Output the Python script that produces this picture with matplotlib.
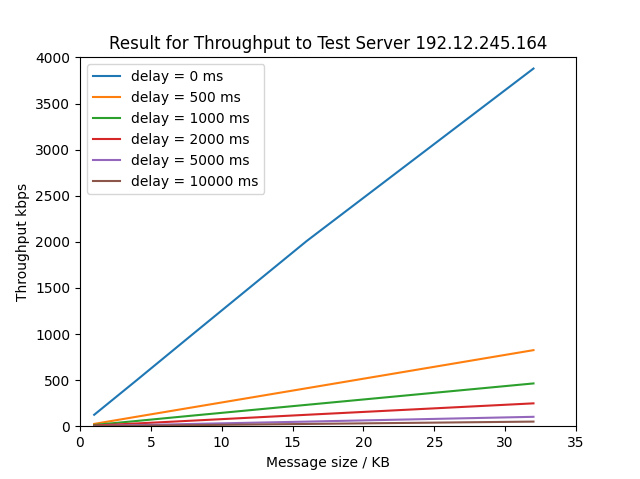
import matplotlib
matplotlib.use("Agg")
import matplotlib.pyplot as plt

# Taille des messages en KB
message_size = [1, 2, 4, 8, 16, 32]

# Débit mesuré (kbps) pour chaque délai
delays = ['0', '500', '1000', '2000', '5000', '10000']
throughput_0 = [125, 250, 500, 1005, 2010, 3880]
throughput_500 = [26, 52, 104, 207, 413, 826]
throughput_1000 = [14.6, 29, 58, 117, 233, 465]
throughput_2000 = [7.8, 15.6, 31, 62, 125, 249]
throughput_5000 = [3.2, 6.4, 13, 26, 51, 103]
throughput_10000 = [1.6, 3.2, 6.4, 12.8, 25.6, 51]

series = [throughput_0, throughput_500, throughput_1000,
          throughput_2000, throughput_5000, throughput_10000]

fig = plt.figure(figsize=(6.4, 4.79), dpi=100)

for d, values in zip(delays, series):
    plt.plot(message_size, values, label='delay = ' + d + ' ms')

plt.xlim(0, 35)
plt.ylim(0, 4000)
plt.xlabel('Message size / KB')
plt.ylabel('Throughput kbps')
plt.title('Result for Throughput to Test Server 192.12.245.164')
plt.legend(loc='upper left')
plt.savefig('out.png', dpi=100)
